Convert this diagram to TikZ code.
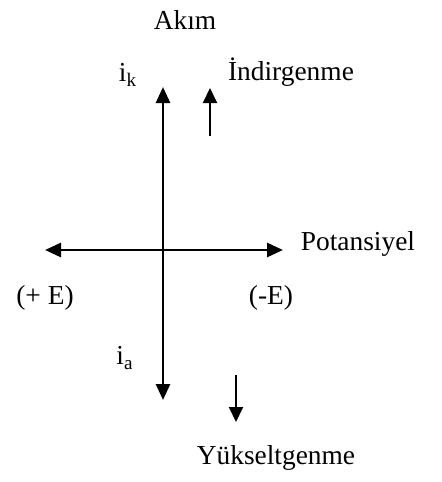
\documentclass[tikz,border=0pt]{standalone}
\usepackage{fontspec}
\setmainfont{Liberation Serif}
\usetikzlibrary{positioning,arrows.meta}

\begin{document}
\begin{tikzpicture}[
    x=0.5pt, y=-0.5pt,
    lbl/.style={font=\fontsize{13.7}{16}\selectfont, inner sep=0pt},
    axis/.style={{Triangle[length=8pt,width=7pt]}-{Triangle[length=8pt,width=7pt]}, line width=1.4pt},
    flow/.style={-{Triangle[length=7.5pt,width=7pt]}, line width=1pt},
]
\useasboundingbox (0,0) rectangle (441,482);

% axes
\coordinate (top) at (163,87);
\coordinate (bot) at (163,400);
\coordinate (lft) at (45,250);
\coordinate (rgt) at (283,250);
\draw[axis] (top) -- (bot);
\draw[axis] (lft) -- (rgt);

% direction arrows
\coordinate (up0) at (210,136);
\coordinate (up1) at (210,88);
\coordinate (dn0) at (236,375);
\coordinate (dn1) at (236,422);
\draw[flow] (up0) -- (up1);
\draw[flow] (dn0) -- (dn1);

% labels
\node[lbl] (akim) at (185,20) {Akım};
\node[lbl] (ik) at (128,75) {i\textsubscript{k}};
\node[lbl] (indir) at (291,72) {İndirgenme};
\node[lbl] (pot) at (358,244) {Potansiyel};
\node[lbl] (pE) at (45,298) {(+ E)};
\node[lbl] (mE) at (271,298) {(-E)};
\node[lbl] (ia) at (125,358) {i\textsubscript{a}};
\node[lbl] (yuk) at (276,458) {Yükseltgenme};
\end{tikzpicture}
\end{document}
